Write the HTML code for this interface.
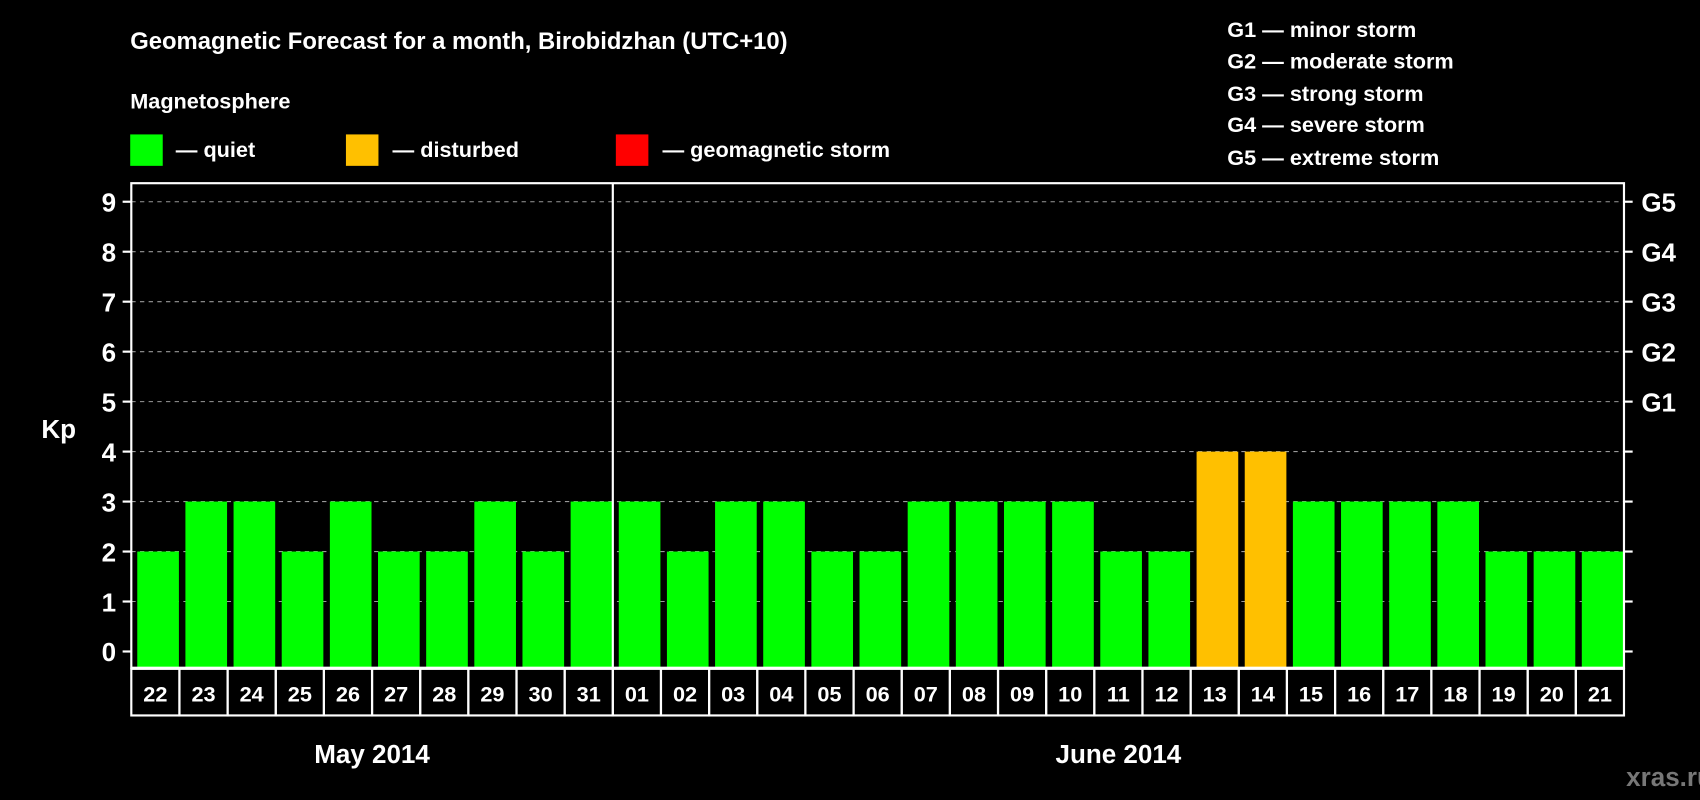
<!DOCTYPE html>
<html><head><meta charset="utf-8"><style>
html,body{margin:0;padding:0;background:#000;}
svg{display:block;font-family:"Liberation Sans",Arial,sans-serif;font-weight:bold;}
</style></head><body>
<svg id="chart" width="1700" height="800" viewBox="0 0 1568 738">
<rect x="0" y="0" width="1568" height="738" fill="#000"/>
<text x="120" y="45" fill="#fff" font-size="22">Geomagnetic Forecast for a month, Birobidzhan (UTC+10)</text>
<text x="120" y="100" fill="#fff" font-size="20">Magnetosphere</text>
<g><rect x="120" y="124" width="30" height="29" fill="#00ff00"/><text x="162" y="145" fill="#fff" font-size="20">— quiet</text></g>
<g><rect x="319" y="124" width="30" height="29" fill="#ffc000"/><text x="362" y="145" fill="#fff" font-size="20">— disturbed</text></g>
<g><rect x="568" y="124" width="30" height="29" fill="#ff0000"/><text x="611" y="145" fill="#fff" font-size="20">— geomagnetic storm</text></g>
<g fill="#fff" font-size="20">
<text x="1132" y="34">G1 — minor storm</text>
<text x="1132" y="63">G2 — moderate storm</text>
<text x="1132" y="93">G3 — strong storm</text>
<text x="1132" y="122">G4 — severe storm</text>
<text x="1132" y="152">G5 — extreme storm</text>
</g>
<text x="38" y="404" fill="#fff" font-size="24">Kp</text>
<text x="1500" y="725" fill="#777" font-size="24">xras.ru</text>
<g id="plot"></g>
</svg>
<script>
const days = ["22","23","24","25","26","27","28","29","30","31","01","02","03","04","05","06","07","08","09","10","11","12","13","14","15","16","17","18","19","20","21"];
const kpValues = [2,3,3,2,3,2,2,3,2,3,3,2,3,3,2,2,3,3,3,3,2,2,4,4,3,3,3,3,2,2,2];
const yTicks = [0,1,2,3,4,5,6,7,8,9];
const gLabels = ["G1","G2","G3","G4","G5"];
const months = ["May 2014","June 2014"];
const monthSplit = 10;

const NS = "http://www.w3.org/2000/svg";
const g = document.getElementById("plot");
const L = 121, R = 1498, T = 169, B = 616, y0 = 601, unit = 46.1;
const colW = (R - L) / days.length;
const yS = v => y0 - v * unit;
const xS = i => L + i * colW;
function mk(tag, attrs, parent) { const e = document.createElementNS(NS, tag); for (const k in attrs) e.setAttribute(k, attrs[k]); (parent || g).appendChild(e); return e; }

yTicks.forEach(v => {
  const y = yS(v);
  if (v > 0) { const ln = mk("line", {x1: L, x2: R, y1: y, y2: y, stroke: "#999", "stroke-width": 1, "stroke-dasharray": "4,4"});
    
     }
  mk("line", {x1: L - 8, x2: L, y1: y, y2: y, stroke: "#fff", "stroke-width": 2});
  mk("line", {x1: R, x2: R + 8, y1: y, y2: y, stroke: "#fff", "stroke-width": 2});
  const t = mk("text", {x: L - 14, y: y + 9, fill: "#fff", "font-size": 24, "text-anchor": "end"});
  t.textContent = v;
  
  
});
gLabels.forEach((s, i) => {
  const t = mk("text", {x: R + 16, y: yS(5 + i) + 9, fill: "#fff", "font-size": 24});
  t.textContent = s;
  
  
});
kpValues.forEach((v, i) => {
  const col = v >= 5 ? "#ff0000" : (v >= 4 ? "#ffc000" : "#00ff00");
  const b = mk("rect", {x: xS(i) + 5.5, y: yS(v), width: colW - 6, height: B - yS(v), fill: col});
  
  
  const c = mk("rect", {x: xS(i), y: B + 1, width: colW, height: 43, fill: "none", stroke: "#fff", "stroke-width": 2});
  
  
  const t = mk("text", {x: xS(i) + colW / 2, y: B + 31, fill: "#fff", "font-size": 20, "text-anchor": "middle"});
  t.textContent = days[i];
  
  
});
const frame = mk("rect", {x: L, y: T, width: R - L, height: B - T, fill: "none", stroke: "#fff", "stroke-width": 2});


const sep = mk("line", {x1: xS(monthSplit), x2: xS(monthSplit), y1: T, y2: B, stroke: "#fff", "stroke-width": 2});


[[0, monthSplit], [monthSplit, days.length]].forEach((r, i) => {
  const t = mk("text", {x: (xS(r[0]) + xS(r[1])) / 2, y: 704, fill: "#fff", "font-size": 24, "text-anchor": "middle"});
  t.textContent = months[i];
  
  
});
</script>
</body></html>
